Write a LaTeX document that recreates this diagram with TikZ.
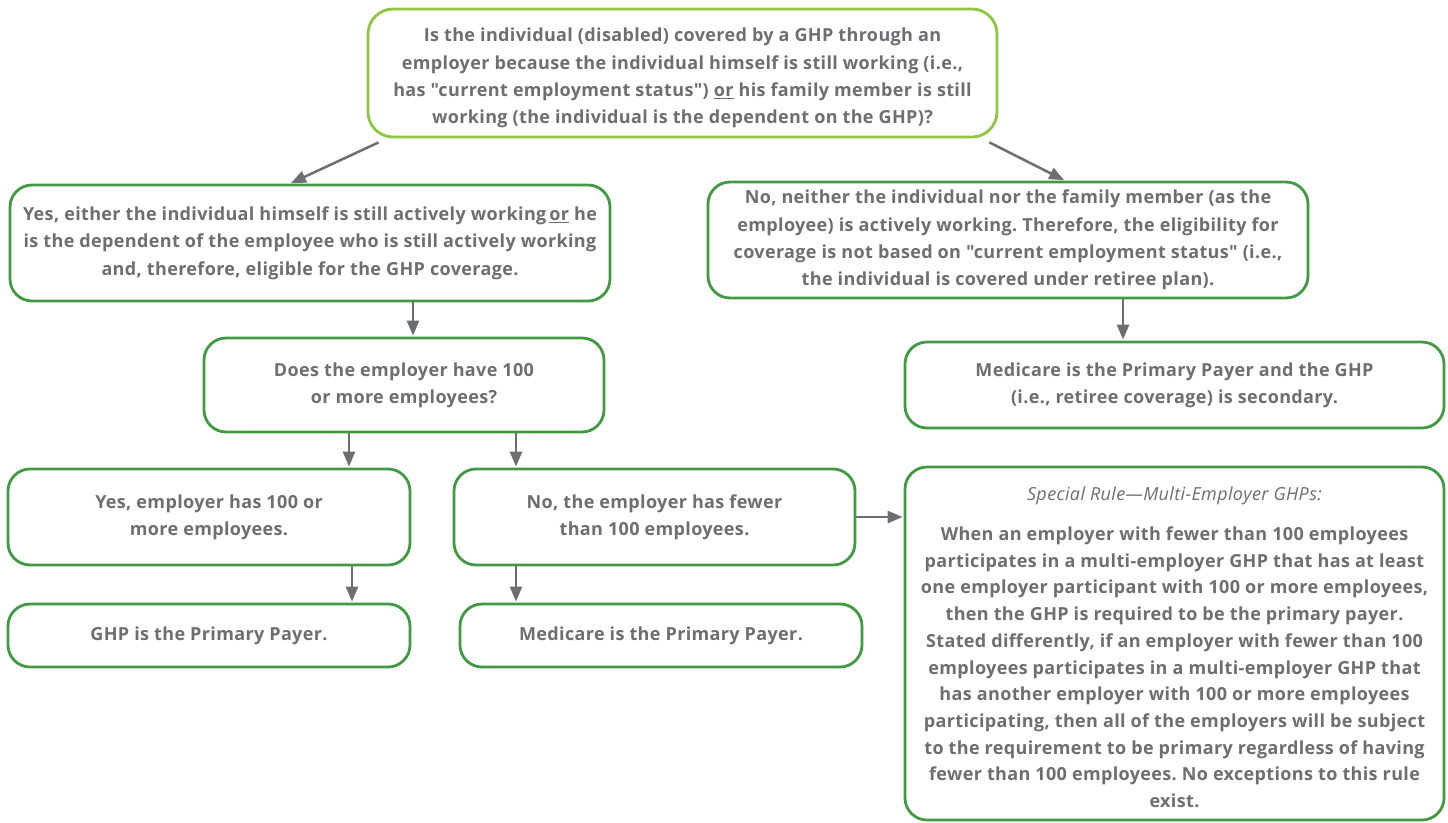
\documentclass[tikz,border=0pt]{standalone}
\usepackage{fontspec}
\setmainfont{Open Sans}[Ligatures=TeXOff, LetterSpace=2]
\usetikzlibrary{arrows.meta}
\definecolor{txt}{HTML}{6D6E71}
\definecolor{gbord}{HTML}{3F9A42}
\definecolor{lgbord}{HTML}{8DC63F}
\frenchspacing
\begin{document}
\begin{tikzpicture}[x=1pt,y=-1pt,
  box/.style={draw=gbord, line width=2.8pt, rounded corners=22pt, fill=white, text=txt, align=center,
    font=\fontsize{18}{27.3}\selectfont\bfseries, inner sep=0pt},
  lbl/.style={text=txt, align=center, font=\fontsize{18}{27.3}\selectfont\bfseries, inner sep=0pt},
  arr/.style={draw=txt, line width=2.5pt, -{Triangle[length=15pt,width=12pt]}, shorten >=1pt}]
\useasboundingbox (0,0) rectangle (1448,822);

\node[box, draw=lgbord, rounded corners=25pt, minimum width=629pt, minimum height=128pt] (top) at (682.5,73) {};
\node[lbl] (top-text) at ([yshift=-5pt]top.center)
 {Is the individual (disabled) covered by a GHP through an\\
  employer because the individual himself is still working (i.e.,\\
  has "current employment status") \underline{or} his family member is still\\
  working (the individual is the dependent on the GHP)?};

\node[box, minimum width=600pt, minimum height=116pt] (yes) at (310,243)
 {Yes, either the individual himself is still actively working\,\underline{or} he\\
  is the dependent of the employee who is still actively working\\
  and, therefore, eligible for the GHP coverage.};

\node[box, minimum width=600pt, minimum height=116pt] (no) at (1008,240)
 {No, neither the individual nor the family member (as the\\
  employee) is actively working. Therefore, the eligibility for\\
  coverage is not based on "current employment status" (i.e.,\\
  the individual is covered under retiree plan).};

\node[box, minimum width=400pt, minimum height=94pt] (does) at (404,385)
 {Does the employer have 100\\ or more employees?};

\node[box, minimum width=539pt, minimum height=86pt] (medsec) at (1174.5,385)
 {Medicare is the Primary Payer and the GHP\\ (i.e., retiree coverage) is secondary.};

\node[box, minimum width=402pt, minimum height=96pt] (yes100) at (209,517)
 {Yes, employer has 100 or\\ more employees.};

\node[box, minimum width=401pt, minimum height=96pt] (nofew) at (654.5,517)
 {No, the employer has fewer\\ than 100 employees.};

\node[box, minimum width=539pt, minimum height=353pt] (special) at (1174.5,643.5) {};
\node[lbl, font=\fontsize{18}{26.7}\selectfont\bfseries] (special-text) at ([yshift=-4pt]special.center)
 {{\mdseries\itshape Special Rule—Multi-Employer GHPs:}\\[13pt]
  When an employer with fewer than 100 employees\\
  participates in a multi-employer GHP that has at least\\
  one employer participant with 100 or more employees,\\
  then the GHP is required to be the primary payer.\\
  Stated differently, if an employer with fewer than 100\\
  employees participates in a multi-employer GHP that\\
  has another employer with 100 or more employees\\
  participating, then all of the employers will be subject\\
  to the requirement to be primary regardless of having\\
  fewer than 100 employees. No exceptions to this rule\\
  exist.};

\node[box, minimum width=402pt, minimum height=63pt] (ghpp) at (209,635.5)
 {GHP is the Primary Payer.};

\node[box, minimum width=402pt, minimum height=63pt] (medp) at (661,635.5)
 {Medicare is the Primary Payer.};

\draw[arr] ([xshift=12pt,yshift=-4pt]top.south west) -- ([xshift=-20pt]yes.north);
\draw[arr] ([xshift=-9pt,yshift=-4pt]top.south east) -- ([xshift=57pt]no.north);
\draw[arr] ([xshift=103pt]yes.south) -- ([xshift=103pt]yes.south |- does.north);
\draw[arr] ([xshift=115pt]no.south) -- ([xshift=115pt]no.south |- medsec.north);
\draw[arr] ([xshift=-55pt]does.south) -- ([xshift=-55pt]does.south |- yes100.north);
\draw[arr] ([xshift=112pt]does.south) -- ([xshift=112pt]does.south |- nofew.north);
\draw[arr] ([xshift=143pt]yes100.south) -- ([xshift=143pt]yes100.south |- ghpp.north);
\draw[arr] ([xshift=-138.5pt]nofew.south) -- ([xshift=-138.5pt]nofew.south |- medp.north);
\draw[arr] (nofew.east) -- (nofew.east -| special.west);
\end{tikzpicture}
\end{document}
